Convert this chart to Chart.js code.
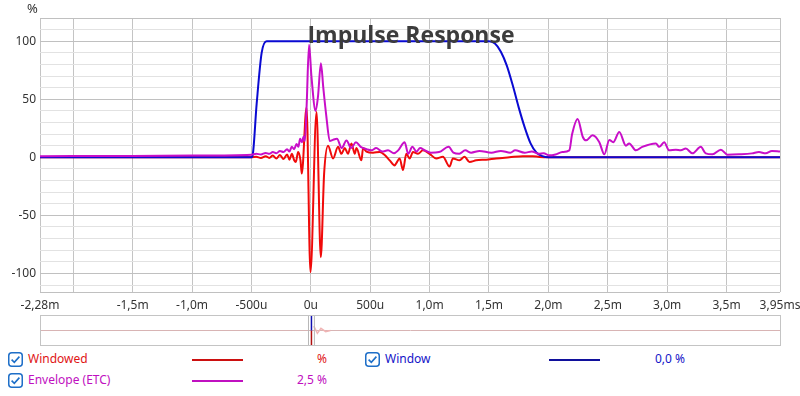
<!DOCTYPE html>
<html>
<head>
<meta charset="utf-8">
<script src="https://cdn.jsdelivr.net/npm/chart.js@4"></script>
<style>
  body { margin: 0; background: #fff; font-family: "Noto Sans", "Open Sans", sans-serif; }
  #wrap { position: relative; width: 800px; height: 396px; overflow: hidden; }
  #main { position: absolute; left: 0; top: 0; width: 800px; height: 314px; }
  #over { position: absolute; left: 40px; top: 315px; width: 739px; height: 29px; border: 1px solid #c4c4c4; }
  .txt { position: absolute; font-size: 12px; white-space: nowrap; line-height: 14px; }
  .title { position: absolute; left: 290px; width: 242px; top: 18px; text-align: center; font: bold 23px "Open Sans", sans-serif; color: #3c3c3c; }
  .smp { position: absolute; height: 2px; width: 51px; }
  .cb { position: absolute; width: 15px; height: 15px; }
</style>
</head>
<body>
<div id="wrap">
  <div id="main"><canvas id="impulse_chart"></canvas></div>
  <div id="over"><canvas id="overview_chart"></canvas></div>
  <div class="title">Impulse Response</div>
  <div class="txt" style="left:27px;top:1px;color:#333;font-size:13px">%</div>

  <svg class="cb" style="left:8px;top:352px" viewBox="0 0 15 15"><rect x="0.75" y="0.75" width="13.5" height="13.5" rx="3" fill="#fff" stroke="#1e6fc8" stroke-width="1.5"/><path d="M3.6 7.6 L6.3 10.3 L11.4 4.6" fill="none" stroke="#1e6fc8" stroke-width="1.6"/></svg>
  <div class="txt" style="left:28px;top:352px;color:#e01414">Windowed</div>
  <div class="smp" style="left:192px;top:359px;background:#cc1010"></div>
  <div class="txt" style="left:317px;top:352px;color:#e01414">%</div>

  <svg class="cb" style="left:365px;top:352px" viewBox="0 0 15 15"><rect x="0.75" y="0.75" width="13.5" height="13.5" rx="3" fill="#fff" stroke="#1e6fc8" stroke-width="1.5"/><path d="M3.6 7.6 L6.3 10.3 L11.4 4.6" fill="none" stroke="#1e6fc8" stroke-width="1.6"/></svg>
  <div class="txt" style="left:385px;top:352px;color:#1414c8">Window</div>
  <div class="smp" style="left:549px;top:359px;background:#10109c"></div>
  <div class="txt" style="left:655px;top:352px;color:#1414c8">0,0 %</div>

  <svg class="cb" style="left:8px;top:373px" viewBox="0 0 15 15"><rect x="0.75" y="0.75" width="13.5" height="13.5" rx="3" fill="#fff" stroke="#1e6fc8" stroke-width="1.5"/><path d="M3.6 7.6 L6.3 10.3 L11.4 4.6" fill="none" stroke="#1e6fc8" stroke-width="1.6"/></svg>
  <div class="txt" style="left:28px;top:373px;color:#c010c0">Envelope (ETC)</div>
  <div class="smp" style="left:192px;top:380px;background:#c010c0"></div>
  <div class="txt" style="left:297px;top:373px;color:#c010c0">2,5 %</div>
</div>

<script>
// time in ms, values in %
const windowTime = [-2.28, -0.50, -0.49, -0.456, -0.414, -0.372, 1.50, 1.55, 1.60, 1.65, 1.70, 1.75, 1.80, 1.85, 1.90, 1.95, 2.0, 3.95];
const windowVals = [0, 0, 1.5, 46, 90, 100, 100, 98, 91, 79, 62, 43, 26, 12, 4, 1, 0, 0];

const windowedTime = [-2.28, -0.50, -0.46, -0.42, -0.38, -0.35, -0.32, -0.29, -0.26, -0.23, -0.20, -0.18, -0.16, -0.14,
  -0.126, -0.107, -0.087, -0.076, -0.036, -0.003, 0.048, 0.084, 0.112, 0.145, 0.187, 0.229, 0.258, 0.286, 0.313, 0.342,
  0.37, 0.384, 0.426, 0.44, 0.468, 0.524, 0.58, 0.622, 0.664, 0.706, 0.72, 0.748, 0.776, 0.804, 0.832, 0.86, 0.902, 0.944,
  1.0, 1.056, 1.112, 1.168, 1.196, 1.252, 1.294, 1.336, 1.392, 1.476, 1.56, 1.672, 1.784, 1.868, 1.924, 2.0, 3.95];
const windowedVals = [0, 0, 0.5, -0.5, 1, -0.5, 1.5, -1, 2, -1.5, 2.5, -2, 3, -2.5,
  -4, 4.6, -2.6, -14, 43, -99, 39, -86, -14, 10, -1, 9, 3, 8, 3, 12,
  3, 8, -2.6, 8, 5, 4, 4.6, 2, -2.6, -7, -5, -1, -11, 3, -1, 4.6, 3, 6,
  3, -1, 0.5, -8, -1, -2.6, 0.5, -4, -2.6, -2, -1, 0, 1, 1, 0.3, 0, 0];

const envTime = [-2.28, -1.50, -0.99, -0.50, -0.46, -0.42, -0.38, -0.35, -0.32, -0.29, -0.26, -0.23, -0.20, -0.18, -0.16,
  -0.14, -0.12, -0.105, -0.09, -0.075, -0.06, -0.05, -0.035, -0.015, 0.005, 0.04, 0.06, 0.085, 0.105, 0.13, 0.16, 0.185,
  0.22, 0.26, 0.30, 0.34, 0.38, 0.42, 0.47, 0.51, 0.55, 0.60, 0.65, 0.70, 0.735, 0.79, 0.82, 0.855, 0.89, 0.92, 0.96,
  1.01, 1.08, 1.16, 1.20, 1.25, 1.30, 1.35, 1.42, 1.52, 1.60, 1.68, 1.72, 1.80, 1.86, 1.92, 1.96, 2.008, 2.06, 2.118,
  2.176, 2.20, 2.246, 2.29, 2.317, 2.372, 2.429, 2.471, 2.513, 2.546, 2.597, 2.653, 2.68, 2.737, 2.79, 2.905, 2.933,
  2.975, 3.017, 3.073, 3.115, 3.157, 3.213, 3.283, 3.325, 3.381, 3.452, 3.507, 3.605, 3.714, 3.773, 3.829, 3.882, 3.95];
const envVals = [1.0, 1.2, 1.5, 2.2, 3.0, 2.5, 3.8, 3.0, 4.5, 3.5, 5.5, 4.5, 7, 5, 9,
  7, 11.5, 9, 16, 13, 18, 14, 45, 97, 70, 40, 52, 81, 60, 36, 14, 15,
  16, 8, 14.5, 8, 13, 9, 7, 6, 8, 5, 6, 3.5, 6, 13, 3, 9, 5, 8, 6,
  4, 4.5, 9, 4, 3, 6, 4, 5.5, 4, 5.5, 4, 6, 4, 5, 3, 3.4, 1.7, 2.5, 4.6,
  6, 20, 33, 17.5, 14.6, 19, 13, 2.6, 15, 13, 21.8, 10, 12, 6, 9, 12, 9,
  13, 6, 6.6, 6, 7.5, 3.4, 9, 3.4, 2.6, 6.6, 2.3, 2.6, 3.4, 4.6, 3.4, 5.5, 5];

const tickX = [-2.28, -2.0, -1.5, -1.0, -0.5, 0, 0.5, 1.0, 1.5, 2.0, 2.5, 3.0, 3.5, 3.95];
const tickXLabels = ['-2,28m', '', '-1,5m', '-1,0m', '-500u', '0u', '500u', '1,0m', '1,5m', '2,0m', '2,5m', '3,0m', '3,5m', '3,95ms'];
const tickY = [-116, -110, -100, -90, -80, -70, -60, -50, -40, -30, -20, -10, 0, 10, 20, 30, 40, 50, 60, 70, 80, 90, 100, 110, 120];
const tickYLabelled = [-100, -50, 0, 50, 100];

// overview strip
const overLineTime = [-2.28, 3.95];
const overLineVals = [0, 0];
const overTailTime = [0.02, 0.05, 0.08, 0.12, 0.16];
const overTailVals = [0.3, -0.2, 0.15, -0.08, 0];

function pts(t, v) {
    return t.map(function(x, i) { return {x: x, y: v[i]}; });
}

var ctx_impulse = document.getElementById("impulse_chart").getContext('2d');
var impulseChart = new Chart(ctx_impulse, {
    type: 'line',
    data: {
        datasets: [{
            label: 'Envelope (ETC)',
            data: pts(envTime, envVals),
            borderColor: '#c80ec8',
            borderWidth: 2,
        }, {
            label: 'Window',
            data: pts(windowTime, windowVals),
            borderColor: '#0a0ad2',
            borderWidth: 2,
        }, {
            label: 'Windowed',
            data: pts(windowedTime, windowedVals),
            borderColor: '#f00a0a',
            borderWidth: 2,
        }]
    },
    options: {
        animation: false,
        responsive: true,
        maintainAspectRatio: false,
        cubicInterpolationMode: 'monotone',
        elements: { point: { radius: 0 } },
        layout: { padding: { top: 18, right: 20, left: 0, bottom: 0 } },
        plugins: {
            legend: { display: false },
            title: { display: false },
            tooltip: { enabled: false }
        },
        scales: {
            x: {
                type: 'linear',
                min: -2.28,
                max: 3.95,
                afterBuildTicks: function(scale) {
                    scale.ticks = tickX.map(function(v) { return {value: v}; });
                },
                afterFit: function(scale) {
                    scale.height = 22;
                    scale.paddingLeft = 0;
                    scale.paddingRight = 0;
                },
                ticks: {
                    autoSkip: false,
                    maxRotation: 0,
                    padding: 6,
                    color: '#333',
                    font: { family: 'Noto Sans', size: 12 },
                    callback: function(value, index) { return tickXLabels[index]; }
                },
                grid: { color: '#c4c4c4', drawTicks: false },
                border: { display: false }
            },
            y: {
                min: -116,
                max: 120,
                afterBuildTicks: function(scale) {
                    scale.ticks = tickY.map(function(v) { return {value: v}; });
                },
                afterFit: function(scale) {
                    scale.width = 40;
                    scale.paddingTop = 0;
                    scale.paddingBottom = 0;
                },
                ticks: {
                    autoSkip: false,
                    padding: 4,
                    color: '#333',
                    font: { family: 'Noto Sans', size: 12 },
                    callback: function(value) {
                        return tickYLabelled.indexOf(value) >= 0 ? String(value) : '';
                    }
                },
                grid: {
                    drawTicks: false,
                    color: function(c) {
                        var v = c.tick.value;
                        return (v % 50 === 0 || v === -116 || v === 120) ? '#c0c0c0' : '#e2e2e2';
                    }
                },
                border: { display: false }
            }
        }
    }
});

var ctx_overview = document.getElementById("overview_chart").getContext('2d');
var overviewChart = new Chart(ctx_overview, {
    type: 'line',
    data: {
        datasets: [{
            data: pts([0, 0], [0, 1]),
            borderColor: '#1010b0',
            borderWidth: 1.5,
        }, {
            data: pts([0, 0], [0, -1]),
            borderColor: '#b01010',
            borderWidth: 1.5,
        }, {
            data: pts([-0.025, -0.025], [-1, 1]),
            borderColor: '#b8b8b8',
            borderWidth: 1,
        }, {
            data: pts([0.025, 0.025], [-1, 1]),
            borderColor: '#b8b8b8',
            borderWidth: 1,
        }, {
            data: pts(overTailTime, overTailVals),
            borderColor: '#f0b4b4',
            borderWidth: 1.5,
        }, {
            data: pts(overLineTime, overLineVals),
            borderColor: '#d8b4b4',
            borderWidth: 1,
        }]
    },
    options: {
        animation: false,
        responsive: true,
        maintainAspectRatio: false,
        elements: { point: { radius: 0 } },
        layout: { padding: 0 },
        plugins: { legend: { display: false }, tooltip: { enabled: false } },
        scales: {
            x: { type: 'linear', min: -2.28, max: 3.95, display: false },
            y: { min: -1, max: 1, display: false }
        }
    }
});
</script>
</body>
</html>
